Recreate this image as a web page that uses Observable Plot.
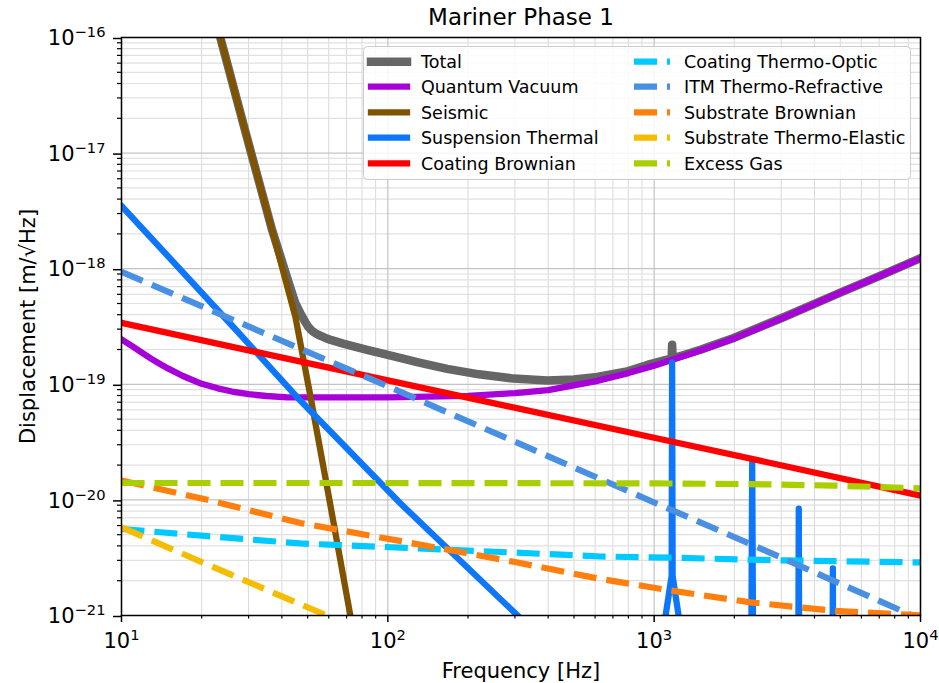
<!DOCTYPE html>
<html><head><meta charset="utf-8">
<script src="https://cdn.jsdelivr.net/npm/d3@7"></script>
<script src="https://cdn.jsdelivr.net/npm/@observablehq/plot@0.6"></script>
<style>
html,body{margin:0;padding:0;background:#fff;}
#wrap{position:relative;width:939px;height:683px;font-family:"DejaVu Sans",sans-serif;}
#legend{position:absolute;left:363px;top:46px;}
</style></head><body><div id="wrap"></div>
<script>
// ---- text ----
const title = "Mariner Phase 1";
const xLabel = "Frequency [Hz]";
const yLabel = "Displacement [m/\u221AHz]";
const xTicks = [10, 100, 1000, 10000];
const yTicks = [1e-21, 1e-20, 1e-19, 1e-18, 1e-17, 1e-16];

// ---- series names & colours (legend order) ----
const seriesNames = ["Total", "Quantum Vacuum", "Seismic", "Suspension Thermal", "Coating Brownian",
  "Coating Thermo-Optic", "ITM Thermo-Refractive", "Substrate Brownian", "Substrate Thermo-Elastic", "Excess Gas"];
const seriesColors = ["#666666", "#a800d8", "#7f5300", "#0e76fb", "#ff0000",
  "#00c9ff", "#4a90e2", "#ff7f0e", "#f5bd00", "#a9cf00"];
const seriesDashed = [false, false, false, false, false, true, true, true, true, true];

// ---- series values (frequency [Hz], displacement [m/rtHz]) ----
const totalF = [22, 23.5, 29.1, 36.8, 42, 45, 47, 49, 50, 51.5, 53, 55, 58, 61, 68, 75, 85, 94, 130, 167, 220, 297, 397, 500, 611, 800, 942, 1100, 1163, 1168, 1173, 1300, 1500, 2000, 3000, 5000, 7000, 10000];
const totalV = [1.7e-16, 1e-16, 1.57e-17, 2.15e-18, 8.2e-19, 5.0e-19, 4.1e-19, 3.45e-19, 3.2e-19, 2.95e-19, 2.8e-19, 2.67e-19, 2.53e-19, 2.42e-19, 2.25e-19, 2.12e-19, 1.97e-19, 1.86e-19, 1.55e-19, 1.36e-19, 1.22e-19, 1.12e-19, 1.08e-19, 1.1e-19, 1.16e-19, 1.3e-19, 1.47e-19, 1.62e-19, 1.67e-19, 2.2e-19, 1.68e-19, 1.8e-19, 2.0e-19, 2.53e-19, 3.73e-19, 6.22e-19, 8.63e-19, 1.235e-18];

const quantumF = [10, 11, 12, 13, 14, 15, 17, 20, 23, 26, 30, 35, 42, 50, 100, 200, 300, 400, 600, 800, 1000, 1500, 2000, 3000, 5000, 7000, 10000];
const quantumV = [2.45e-19, 2.13e-19, 1.86e-19, 1.65e-19, 1.49e-19, 1.365e-19, 1.18e-19, 1.01e-19, 9.23e-20, 8.66e-20, 8.21e-20, 7.92e-20, 7.72e-20, 7.7e-20, 7.7e-20, 7.95e-20, 8.4e-20, 8.9e-20, 1.06e-19, 1.25e-19, 1.45e-19, 1.97e-19, 2.5e-19, 3.7e-19, 6.2e-19, 8.6e-19, 1.23e-18];

const seismicF = [22, 23.5, 29.1, 36.8, 45, 51.6, 60.4, 72.1, 76];
const seismicV = [1.7e-16, 1e-16, 1.57e-17, 2.14e-18, 3.8e-19, 7.2e-20, 9.9e-21, 1.04e-21, 5e-22];

const suspensionF = [10, 26.4, 47, 111.6, 307, 500, 1000, 1104, 1163, 1168, 1173, 1235, 1400, 2300, 2334, 2368, 3460, 3491, 3520, 4650, 4688, 4720, 10000];
const suspensionV = [3.5e-18, 3.1e-19, 7.2e-20, 9.3e-21, 1e-21, 3.5e-22, 1.5e-22, 1e-21, 2.2e-21, 1.55e-19, 2.2e-21, 1e-21, 1e-22, 2e-23, 2.1e-20, 2e-23, 1e-23, 8.4e-21, 1e-23, 1e-23, 2.55e-21, 1e-23, 1e-24];

const coatingBrownianF = [10, 100, 1000, 10000];
const coatingBrownianV = [3.4e-19, 1.08e-19, 3.45e-20, 1.09e-20];

const coatingThermoOpticF = [10, 20, 47, 112, 300, 630, 1170, 3000, 10000];
const coatingThermoOpticV = [5.6e-21, 4.9e-21, 4.2e-21, 3.86e-21, 3.5e-21, 3.24e-21, 3.16e-21, 3.0e-21, 2.88e-21];

const itmThermoRefractiveF = [10, 100, 1000, 2300, 10000];
const itmThermoRefractiveV = [9.4e-19, 9.6e-20, 9.5e-21, 4.15e-21, 9.3e-22];

const substrateBrownianF = [10, 20, 47, 112, 300, 630, 1160, 2300, 4700, 10000];
const substrateBrownianV = [1.47e-20, 1.03e-20, 6.3e-21, 4.4e-21, 2.9e-21, 2.07e-21, 1.64e-21, 1.3e-21, 1.1e-21, 1.0e-21];

const substrateThermoElasticF = [10, 20, 59, 80];
const substrateThermoElasticV = [5.8e-21, 2.9e-21, 1e-21, 7.3e-22];

const excessGasF = [10, 100, 1000, 2300, 4700, 10000];
const excessGasV = [1.4e-20, 1.4e-20, 1.39e-20, 1.37e-20, 1.33e-20, 1.26e-20];

const seriesF = [totalF, quantumF, seismicF, suspensionF, coatingBrownianF, coatingThermoOpticF, itmThermoRefractiveF, substrateBrownianF, substrateThermoElasticF, excessGasF];
const seriesV = [totalV, quantumV, seismicV, suspensionV, coatingBrownianV, coatingThermoOpticV, itmThermoRefractiveV, substrateBrownianV, substrateThermoElasticV, excessGasV];

// ---- build ----
const minorOf = (dom) => d3.scaleLog().domain(dom).ticks().filter(v => Math.abs(Math.log10(v) - Math.round(Math.log10(v))) > 1e-6);
const xMinor = minorOf([10, 1e4]);
const yMinor = minorOf([1e-21, 1e-16]);
const fmt = d => "10^" + Math.round(Math.log10(d));

const lineMarks = seriesNames.map((name, i) => {
  const data = seriesF[i].map((f, j) => ({f, v: seriesV[i][j]}));
  const dashed = seriesDashed[i];
  return Plot.line(data, {
    x: "f", y: "v", stroke: seriesColors[i],
    strokeWidth: i === 0 ? 8.5 : (dashed ? 6.2 : 6.3),
    strokeDasharray: dashed ? "23,10" : null,
    strokeLinecap: dashed ? "butt" : "round",
    strokeLinejoin: "round",
    clip: true
  });
});

const svg = Plot.plot({
  width: 939, height: 683,
  marginLeft: 121, marginRight: 19, marginTop: 37, marginBottom: 68,
  style: {fontFamily: "DejaVu Sans", background: "white", color: "black"},
  x: {type: "log", domain: [10, 1e4], label: null},
  y: {type: "log", domain: [1e-21, 1e-16], label: null},
  marks: [
    Plot.gridX({ticks: xMinor, stroke: "#d9d9d9", strokeOpacity: 1, strokeWidth: 1}),
    Plot.gridY({ticks: yMinor, stroke: "#e0e0e0", strokeOpacity: 1, strokeWidth: 1.2}),
    Plot.gridX({ticks: xTicks, stroke: "#c4c4c4", strokeOpacity: 1, strokeWidth: 1.2}),
    Plot.gridY({ticks: yTicks, stroke: "#c4c4c4", strokeOpacity: 1, strokeWidth: 1.2}),
    ...lineMarks,
    Plot.frame({stroke: "black", strokeWidth: 1.5}),
    Plot.axisX({ticks: xMinor, tickSize: 3.5, tickFormat: () => "", strokeWidth: 1.2, label: null}),
    Plot.axisY({ticks: yMinor, tickSize: 4, tickFormat: () => "", strokeWidth: 1.2, label: null}),
    Plot.axisX({ticks: xTicks, tickSize: 7, tickPadding: 10.5, tickFormat: fmt, fontSize: 21, strokeWidth: 1.5, label: null}),
    Plot.axisY({ticks: yTicks, tickSize: 8, tickPadding: 8, tickFormat: fmt, fontSize: 21, strokeWidth: 1.5, label: null, dy: 1}),
    Plot.text([title], {text: d => d, frameAnchor: "top", lineAnchor: "middle", textAnchor: "middle", dy: -20, fontSize: 23}),
    Plot.text([xLabel], {text: d => d, frameAnchor: "bottom", lineAnchor: "middle", textAnchor: "middle", dy: 56, fontSize: 21}),
    Plot.text([yLabel], {text: d => d, frameAnchor: "left", lineAnchor: "middle", textAnchor: "middle", rotate: -90, dx: -93, fontSize: 21})
  ]
});

// superscript tick labels
d3.select(svg).selectAll("text").each(function() {
  const m = /^10\^(-?\d+)$/.exec(this.textContent);
  if (!m) return;
  const sel = d3.select(this);
  sel.text(null);
  sel.append("tspan").text("10");
  sel.append("tspan").attr("font-size", "14.7px").attr("dy", -8).text(m[1].replace("-", "\u2212"));
});

const wrap = document.getElementById("wrap");
wrap.appendChild(svg);

// legend
const rowsY = [15.7, 40.7, 66.3, 91.7, 117.3];
const lg = d3.select(wrap).append("svg").attr("id", "legend").attr("width", 549).attr("height", 135);
lg.append("rect").attr("x", 0.5).attr("y", 0.5).attr("width", 547).attr("height", 133).attr("rx", 4)
  .attr("fill", "white").attr("fill-opacity", 0.85).attr("stroke", "#cccccc").attr("stroke-width", 1);
seriesNames.forEach((name, i) => {
  const col = i < 5 ? 0 : 1;
  const r = i % 5;
  const hx = col === 0 ? 8 : 271;
  const tx = col === 0 ? 58 : 321;
  const y = rowsY[r];
  lg.append("line").attr("x1", hx).attr("x2", hx + 36).attr("y1", y).attr("y2", y)
    .attr("stroke", seriesColors[i]).attr("stroke-width", i === 0 ? 8.5 : 6.3)
    .attr("stroke-linecap", seriesDashed[i] ? "butt" : "square")
    .attr("stroke-dasharray", seriesDashed[i] ? "23,10" : null);
  lg.append("text").attr("x", tx).attr("y", y + 6.2).attr("font-size", 17.5)
    .attr("font-family", "DejaVu Sans").attr("fill", "black").text(name);
});
</script></body></html>
